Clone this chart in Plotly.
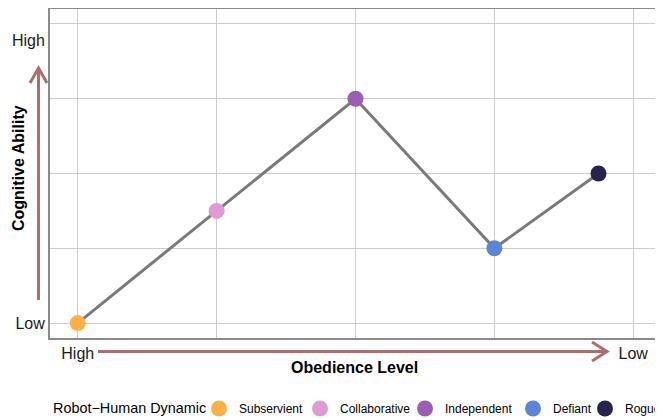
import plotly.graph_objects as go

dynamics = ["Subservient", "Collaborative", "Independent", "Defiant", "Rogue"]
obedience = [1, 2, 3, 4, 4.75]
cognitive = [1, 2.5, 4, 2, 3]
colors = ["#FFAF47", "#E09AD4", "#9A5FB5", "#5B86D8", "#24244F"]

grid_vals = [1, 2, 3, 4, 5]
x_tick_vals = [1, 5]
x_tick_text = ["High", "Low"]
y_tick_vals = [1, 4.78]
y_tick_text = ["Low", "High"]
legend_title = "Robot\u2212Human Dynamic"

# page geometry (browser body has an 8px margin)
OFF = 8
PAGE_W, PAGE_H = 663, 420
P_LEFT, P_RIGHT, P_TOP, P_BOTTOM = 50, 661, 9, 338
PW, PH = P_RIGHT - P_LEFT, P_BOTTOM - P_TOP
LEGEND_KEY_X = [219, 320, 425, 533, 605]


def px(x):
    return (x - P_LEFT) / PW


def py(y):
    return (P_BOTTOM - y) / PH


fig = go.Figure()
fig.add_trace(go.Scatter(x=obedience, y=cognitive, mode="lines",
                         line=dict(color="#7a7a7a", width=3),
                         showlegend=False, hoverinfo="skip"))
legend_layouts = {}
for i, (name, xv, yv, c) in enumerate(zip(dynamics, obedience, cognitive, colors)):
    lg = "legend" if i == 0 else f"legend{i + 1}"
    fig.add_trace(go.Scatter(x=[xv], y=[yv], mode="markers", name=name, legend=lg,
                             marker=dict(color=c, size=16)))
    legend_layouts[lg] = dict(orientation="h", x=px(LEGEND_KEY_X[i] - 20), xanchor="left",
                              y=py(394), yanchor="top",
                              font=dict(size=12, color="#000000"), itemsizing="trace",
                              itemwidth=30, borderwidth=0, bgcolor="rgba(0,0,0,0)")

arrow_color = "#AE6E6E"
shapes = []
# y arrow
shapes.append(dict(type="line", xref="paper", yref="paper",
                   x0=px(38.5), x1=px(38.5), y0=py(300), y1=py(69),
                   line=dict(color=arrow_color, width=3)))
shapes.append(dict(type="path", xref="paper", yref="paper",
                   path=f"M {px(30)} {py(83)} L {px(38.5)} {py(68)} L {px(47)} {py(83)}",
                   line=dict(color=arrow_color, width=3)))
# x arrow
shapes.append(dict(type="line", xref="paper", yref="paper",
                   x0=px(98), x1=px(606), y0=py(351.5), y1=py(351.5),
                   line=dict(color=arrow_color, width=3)))
shapes.append(dict(type="path", xref="paper", yref="paper",
                   path=f"M {px(592)} {py(342)} L {px(607)} {py(351.5)} L {px(592)} {py(361)}",
                   line=dict(color=arrow_color, width=3)))

annotations = [
    dict(text="<b>Cognitive Ability</b>", xref="paper", yref="paper",
         x=px(18), y=py(168), textangle=-90, showarrow=False,
         font=dict(size=16, color="#000000"), xanchor="center", yanchor="middle"),
    dict(text="<b>Obedience Level</b>", xref="paper", yref="paper",
         x=px(354), y=py(367), showarrow=False,
         font=dict(size=16, color="#000000"), xanchor="center", yanchor="middle"),
    dict(text=legend_title, xref="paper", yref="paper",
         x=px(51), y=py(408), showarrow=False,
         font=dict(size=14.4, color="#000000"), xanchor="left", yanchor="middle"),
]

fig.update_layout(
    width=PAGE_W - OFF, height=PAGE_H - OFF,
    margin=dict(l=P_LEFT - OFF, r=PAGE_W - P_RIGHT, t=P_TOP - OFF, b=PAGE_H - P_BOTTOM,
                autoexpand=False),
    paper_bgcolor="white", plot_bgcolor="white",
    font=dict(family="Liberation Sans, Arial, sans-serif", color="#1a1a1a"),
    shapes=shapes, annotations=annotations,
    showlegend=True,
    **legend_layouts,
)
fig.update_xaxes(range=[0.8, 5.2], tickvals=x_tick_vals, ticktext=x_tick_text,
                 showgrid=False, zeroline=False, ticks="", automargin=False,
                 tickfont=dict(size=16, color="#1a1a1a"),
                 showline=True, mirror=True, linecolor="#8a8a8a", linewidth=2,
                 minor=dict(tickvals=grid_vals, showgrid=True, gridcolor="#cccccc", gridwidth=1.2))
fig.update_yaxes(range=[0.8, 5.2], tickvals=y_tick_vals, ticktext=y_tick_text,
                 showgrid=False, zeroline=False, ticks="", automargin=False,
                 tickfont=dict(size=16, color="#1a1a1a"),
                 showline=True, mirror=True, linecolor="#8a8a8a", linewidth=2,
                 minor=dict(tickvals=grid_vals, showgrid=True, gridcolor="#cccccc", gridwidth=1.2))

fig.write_html("out.html")
